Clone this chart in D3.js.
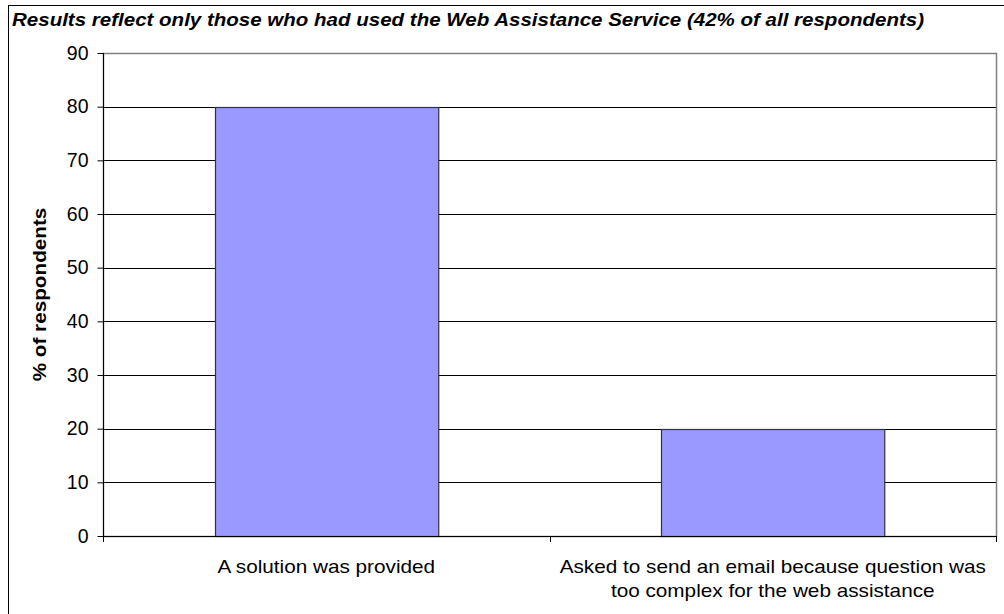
<!DOCTYPE html>
<html>
<head>
<meta charset="utf-8">
<script src="https://cdn.jsdelivr.net/npm/d3@7"></script>
<style>
  html, body { margin: 0; padding: 0; background: #fff; }
  svg { display: block; font-family: "Liberation Sans", Arial, sans-serif; }
</style>
</head>
<body>
<svg id="chart" width="1004" height="614"></svg>
<script>
// Survey results: outcome of using the Web Assistance Service
const categories = ["A solution was provided", "Asked to send an email because question was|too complex for the web assistance"];
const values = [80, 20];
const yTicks = [0, 10, 20, 30, 40, 50, 60, 70, 80, 90];
const titleText = "Results reflect only those who had used the Web Assistance Service (42% of all respondents)";
const yLabel = "% of respondents";

const svg = d3.select("#chart");
const W = 1004, H = 614;
const plot = { left: 103, right: 996, top: 53, bottom: 536 };

// outer frame
svg.append("rect")
  .attr("x", 8.5).attr("y", 5.5)
  .attr("width", W + 10).attr("height", H + 10)
  .attr("fill", "#fff").attr("stroke", "#000").attr("stroke-width", 1);

// title
svg.append("text")
  .attr("x", 12).attr("y", 26)
  .attr("font-size", 17.5).attr("font-weight", "bold").attr("font-style", "italic")
  .attr("textLength", 912).attr("lengthAdjust", "spacingAndGlyphs")
  .text(titleText);

const x = d3.scaleBand()
  .domain(categories)
  .range([plot.left, plot.right])
  .paddingInner(0.5).paddingOuter(0.25);

const y = d3.scaleLinear().domain([0, 90]).range([plot.bottom, plot.top]);

// gridlines
svg.append("g")
  .selectAll("line")
  .data(yTicks.filter(t => t > 0 && t < 90))
  .join("line")
  .attr("x1", plot.left).attr("x2", plot.right)
  .attr("y1", d => Math.round(y(d)) + 0.5).attr("y2", d => Math.round(y(d)) + 0.5)
  .attr("stroke", "#000").attr("stroke-width", 1);

// plot area border (gray)
svg.append("rect")
  .attr("x", plot.left + 0.5).attr("y", Math.round(y(90)) + 0.5)
  .attr("width", plot.right - plot.left).attr("height", Math.round(y(0)) - Math.round(y(90)))
  .attr("fill", "none").attr("stroke", "#808080").attr("stroke-width", 1.5);

// bars
svg.append("g")
  .selectAll("rect")
  .data(categories.map((c, i) => ({ c, v: values[i] })))
  .join("rect")
  .attr("x", d => Math.round(x(d.c)) + 0.5)
  .attr("y", d => Math.round(y(d.v)) + 0.5)
  .attr("width", x.bandwidth())
  .attr("height", d => Math.round(y(0)) - Math.round(y(d.v)))
  .attr("fill", "#9999ff").attr("stroke", "#333").attr("stroke-width", 1.2);

// y axis
const yAxis = d3.axisLeft(y).tickValues(yTicks).tickSize(6).tickPadding(9).tickFormat(d3.format("d"));
const yg = svg.append("g").attr("transform", `translate(${plot.left + 0.5},0)`).call(yAxis);
yg.select(".domain").remove();
yg.append("line").attr("x1", 0).attr("x2", 0)
  .attr("y1", y(90)).attr("y2", y(0) + 6).attr("stroke", "#000");
yg.selectAll(".tick line").attr("stroke", "#000");
yg.selectAll(".tick text")
  .attr("font-family", "Liberation Sans, Arial, sans-serif")
  .attr("font-size", 19.5).attr("fill", "#000");

// x axis line and category separators
const xg = svg.append("g");
xg.append("line")
  .attr("x1", plot.left).attr("x2", plot.right)
  .attr("y1", Math.round(y(0)) + 0.5).attr("y2", Math.round(y(0)) + 0.5)
  .attr("stroke", "#000");
const seps = [plot.left, ...categories.slice(1).map(c => x(c) - x.step() * x.paddingInner() / 2), plot.right];
xg.selectAll("line.sep").data(seps).join("line").attr("class", "sep")
  .attr("x1", d => Math.round(d) + 0.5).attr("x2", d => Math.round(d) + 0.5)
  .attr("y1", y(0)).attr("y2", y(0) + 6).attr("stroke", "#000");

// category labels (widened slightly to the original face's proportions)
categories.forEach(c => {
  const lines = c.split("|");
  const cx = x(c) + x.bandwidth() / 2;
  const t = svg.append("text")
    .attr("x", cx).attr("y", 573)
    .attr("text-anchor", "middle").attr("font-size", 18.5).attr("fill", "#000");
  lines.forEach((l, i) => {
    const ts = t.append("tspan").attr("x", cx).attr("dy", i === 0 ? 0 : 24).text(l);
    const w = ts.node().getComputedTextLength();
    ts.attr("textLength", w * 1.12).attr("lengthAdjust", "spacingAndGlyphs");
  });
});

// y axis title, centred on the plot height
const yt = svg.append("text")
  .attr("transform", `translate(46, ${(plot.top + plot.bottom) / 2}) rotate(-90)`)
  .attr("text-anchor", "middle").attr("font-size", 18).attr("font-weight", "bold")
  .text(yLabel);
yt.attr("textLength", yt.node().getComputedTextLength() * 1.15).attr("lengthAdjust", "spacingAndGlyphs");
</script>
</body>
</html>
